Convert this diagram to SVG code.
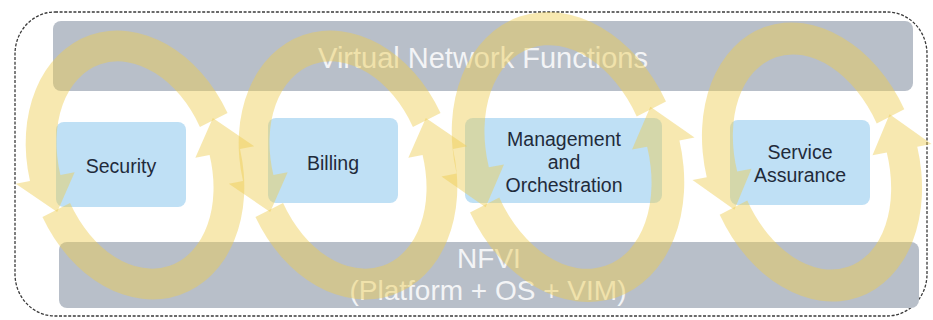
<svg xmlns="http://www.w3.org/2000/svg" xmlns:xlink="http://www.w3.org/1999/xlink" width="933" height="320" viewBox="0 0 933 320">
  <style>
    .frame { fill: none; stroke: #3a3a3a; stroke-width: 1.3; stroke-dasharray: 3 1.6; }
    .bar { fill: #b8bfc9; }
    .box { fill: #bfe0f5; }
    .bar-label { font-family: "Liberation Sans", Arial, sans-serif; font-size: 29px; fill: #f3f4f6; text-anchor: middle; }
    .bar-label.small { font-size: 28px; }
    .box-label { font-family: "Liberation Sans", Arial, sans-serif; font-size: 19.5px; fill: #1f2b3b; text-anchor: middle; }
    .cycle { fill: #edcc50; fill-opacity: 0.45; }
  </style>
  <defs>
    <!-- one half of a cycle: ribbon along an ellipse (rx 90, ry 122) with an arrowhead -->
    <path id="half-arrow" d="M104.47,-19.14 A105.5,137.5 0 0 0 -104.47,-19.14 L-118.83,-21.15 L-88.89,19.08 L-59.42,-12.80 L-73.78,-14.82 A74.5,106.5 0 0 1 73.78,-14.82 Z"/>
    <!-- full cycle: two half arrows, point-symmetric -->
    <g id="cycle">
      <use xlink:href="#half-arrow" class="cycle"/>
      <use xlink:href="#half-arrow" class="cycle" transform="rotate(180)"/>
    </g>
  </defs>

  <rect width="933" height="320" fill="#ffffff"/>

  <g id="frame">
    <rect class="frame" x="15" y="12" width="912" height="304" rx="40" ry="42"/>
  </g>

  <g id="vnf">
    <rect class="bar" x="53" y="21" width="860" height="70" rx="8"/>
    <text class="bar-label" x="483" y="68">Virtual Network Functions</text>
  </g>

  <g id="nfvi">
    <rect class="bar" x="59" y="242" width="860" height="66" rx="8"/>
    <text class="bar-label small" x="489" y="268">NFVI</text>
    <text class="bar-label small" x="488" y="300">(Platform + OS + VIM)</text>
  </g>

  <g id="security">
    <rect class="box" x="56" y="122" width="130" height="85" rx="8"/>
    <text class="box-label" x="121" y="173">Security</text>
  </g>

  <g id="billing">
    <rect class="box" x="268" y="118" width="130" height="85" rx="8"/>
    <text class="box-label" x="333" y="170">Billing</text>
  </g>

  <g id="mano">
    <rect class="box" x="465" y="118" width="197" height="85" rx="8"/>
    <text class="box-label" x="564" y="146">Management</text>
    <text class="box-label" x="564" y="169">and</text>
    <text class="box-label" x="564" y="192">Orchestration</text>
  </g>

  <g id="service-assurance">
    <rect class="box" x="730" y="120" width="140" height="85" rx="8"/>
    <text class="box-label" x="800" y="159">Service</text>
    <text class="box-label" x="800" y="182">Assurance</text>
  </g>

  <!-- lifecycle loops drawn over the layers -->
  <g id="connectors">
    <use xlink:href="#cycle" transform="translate(135,165) rotate(-19)"/>
    <use xlink:href="#cycle" transform="translate(348,165) rotate(-19)"/>
    <use xlink:href="#cycle" transform="translate(568,157) rotate(-19) scale(1.06,1.08)"/>
    <use xlink:href="#cycle" transform="translate(812,162) rotate(-19) scale(1,1.04)"/>
  </g>
</svg>
